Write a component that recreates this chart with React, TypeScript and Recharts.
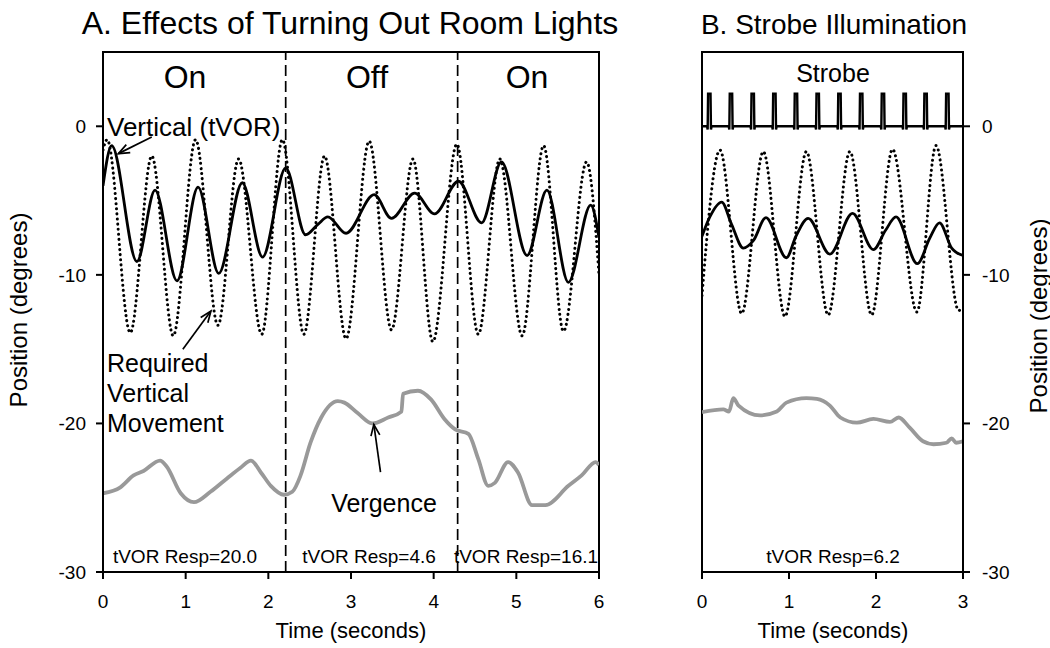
import React from "react"
import { LineChart, Line, XAxis, YAxis, ReferenceLine, ReferenceArea } from "recharts"

const FONT = "'Liberation Sans', Arial, sans-serif"

// ---- Panel A: room lights on / off ----
const reqA_t = [0, 0.05, 0.33, 0.59, 0.85, 1.12, 1.39, 1.64, 1.92, 2.17, 2.43, 2.68, 2.94, 3.22, 3.49, 3.75, 3.99, 4.28, 4.54, 4.8, 5.07, 5.33, 5.57, 5.85, 6.0]
const reqA_v = [-1.6, -0.9, -13.9, -2.0, -14.1, -0.9, -13.4, -2.2, -14.0, -0.9, -14.0, -2.0, -14.3, -1.0, -13.7, -2.2, -14.5, -1.2, -14.0, -2.2, -14.1, -1.3, -13.8, -2.4, -10.0]

const vorA_t = [0, 0.105, 0.41, 0.63, 0.895, 1.15, 1.4, 1.685, 1.93, 2.21, 2.45, 2.6, 2.72, 2.94, 3.28, 3.49, 3.77, 4.01, 4.3, 4.58, 4.82, 5.13, 5.37, 5.63, 5.9, 6.0]
const vorA_v = [-4.0, -1.3, -9.1, -4.3, -10.4, -4.1, -9.9, -3.8, -8.8, -2.8, -7.3, -6.6, -6.1, -7.2, -4.6, -6.2, -4.5, -5.9, -3.7, -6.5, -2.4, -8.7, -4.3, -10.5, -5.3, -7.5]

const vergA_t = [0, 0.21, 0.37, 0.49, 0.69, 0.77, 0.94, 1.1, 1.3, 1.5, 1.66, 1.79, 1.91, 2.03, 2.19, 2.29, 2.39, 2.51, 2.64, 2.84, 2.92, 3.08, 3.26, 3.45, 3.61, 3.63, 3.81, 3.97, 4.13, 4.26, 4.42, 4.54, 4.66, 4.74, 4.9, 5.02, 5.19, 5.35, 5.63, 5.79, 5.96, 6.0]
const vergA_v = [-24.7, -24.3, -23.5, -23.2, -22.5, -22.9, -24.7, -25.3, -24.6, -23.7, -23.0, -22.5, -23.3, -24.2, -24.8, -24.6, -23.5, -21.3, -19.6, -18.5, -18.6, -19.3, -20.0, -19.6, -19.2, -18.0, -17.8, -18.4, -19.7, -20.4, -20.7, -22.4, -24.2, -24.0, -22.6, -23.3, -25.5, -25.5, -24.2, -23.5, -22.6, -22.8]

const lightSwitches = [2.21, 4.29]
const ticksA = [0, 1, 2, 3, 4, 5, 6]

// ---- Panel B: strobe ----
const reqB_t = [0, 0.207, 0.456, 0.705, 0.954, 1.2, 1.45, 1.7, 1.95, 2.19, 2.47, 2.69, 2.95, 3.0]
const reqB_v = [-11.4, -1.6, -12.6, -1.7, -12.8, -1.7, -12.7, -1.7, -12.7, -1.55, -12.5, -1.3, -12.4, -12.2]

const vorB_t = [0, 0.09, 0.226, 0.34, 0.475, 0.59, 0.735, 0.97, 1.08, 1.22, 1.47, 1.73, 1.97, 2.11, 2.23, 2.475, 2.62, 2.73, 2.87, 3.0]
const vorB_v = [-7.4, -6.1, -5.1, -6.6, -8.2, -7.7, -6.15, -8.85, -7.4, -6.2, -8.6, -5.86, -8.3, -7.0, -6.1, -9.25, -7.5, -6.5, -8.2, -8.7]

const vergB_t = [0, 0.245, 0.31, 0.36, 0.42, 0.667, 0.86, 0.97, 1.2, 1.32, 1.47, 1.59, 1.78, 1.97, 2.16, 2.26, 2.39, 2.54, 2.66, 2.81, 2.87, 2.92, 3.0]
const vergB_v = [-19.24, -19.06, -19.2, -18.3, -18.8, -19.46, -19.2, -18.6, -18.3, -18.35, -18.8, -19.6, -19.95, -19.7, -19.9, -19.6, -20.3, -21.2, -21.4, -21.3, -21.0, -21.3, -21.2]

const flashTimes = [0.084, 0.333, 0.583, 0.832, 1.08, 1.33, 1.58, 1.83, 2.08, 2.33, 2.57, 2.82]
const flashHeight = 2.2
const flashDip = -0.22
const ticksB = [0, 1, 2, 3]

const yTicks = [-30, -20, -10, 0]

const rows = (t: number[], v: number[]) => t.map((x, i) => ({ t: x, v: v[i] }))

// strobe trace: flat baseline with a narrow pulse at each flash
const strobeRows = () => {
  const out = [{ t: 0, v: 0 }]
  flashTimes.forEach((f) => {
    out.push({ t: f - 0.026, v: 0 })
    out.push({ t: f - 0.019, v: flashDip })
    out.push({ t: f - 0.014, v: flashHeight })
    out.push({ t: f + 0.014, v: flashHeight })
    out.push({ t: f + 0.019, v: flashDip })
    out.push({ t: f + 0.026, v: 0 })
  })
  out.push({ t: 3, v: 0 })
  return out
}

const Arrow = (p: any) => {
  const { x1, y1, x2, y2 } = p
  const a = Math.atan2(y2 - y1, x2 - x1)
  const L = 12
  const w = 0.38
  const ax = x2 - L * Math.cos(a - w)
  const ay = y2 - L * Math.sin(a - w)
  const bx = x2 - L * Math.cos(a + w)
  const by = y2 - L * Math.sin(a + w)
  return (
    <g>
      <line x1={x1} y1={y1} x2={x2} y2={y2} stroke="#000" strokeWidth={1.7} />
      <polyline points={`${ax},${ay} ${x2},${y2} ${bx},${by}`} fill="none" stroke="#000" strokeWidth={1.7} />
    </g>
  )
}

const tickStyle = { fill: "#000", fontSize: 19, fontFamily: FONT }
const axisLine = { stroke: "#000", strokeWidth: 2 }

const dotted = { stroke: "#000", strokeWidth: 3, strokeDasharray: "0.1 5", strokeLinecap: "round" as const }
const solid = { stroke: "#000", strokeWidth: 2.8 }
const gray = { stroke: "#999999", strokeWidth: 3.8 }

export default function App() {
  return (
    <div style={{ position: "absolute", left: 0, top: 0, width: 1050, height: 648, background: "#fff", fontFamily: FONT }}>
      <div style={{ position: "absolute", left: 0, top: 0 }}>
        <LineChart width={620} height={648} margin={{ top: 52, right: 21, bottom: 36, left: 43 }}>
          <XAxis type="number" dataKey="t" domain={[0, 6]} ticks={ticksA} allowDataOverflow height={40}
            tick={tickStyle} tickSize={7} tickMargin={16} axisLine={axisLine} tickLine={axisLine} />
          <YAxis type="number" domain={[-30, 5]} ticks={yTicks} allowDataOverflow width={60}
            tick={tickStyle} tickSize={7} tickMargin={10} axisLine={axisLine} tickLine={axisLine} />
          <ReferenceArea x1={0} x2={6} y1={-30} y2={5} fill="none" fillOpacity={0} stroke="#000" strokeWidth={2} />
          {lightSwitches.map((s) => (
            <ReferenceLine key={s} x={s} stroke="#000" strokeWidth={1.7} strokeDasharray="11 5" />
          ))}
          <Line data={rows(reqA_t, reqA_v)} dataKey="v" type="monotone" dot={false} isAnimationActive={false} {...dotted} />
          <Line data={rows(vergA_t, vergA_v)} dataKey="v" type="monotone" dot={false} isAnimationActive={false} {...gray} />
          <Line data={rows(vorA_t, vorA_v)} dataKey="v" type="monotone" dot={false} isAnimationActive={false} {...solid} />
          <ReferenceLine segment={[{ x: 0.59, y: -0.72 }, { x: 0.185, y: -1.84 }]} shape={Arrow} />
          <ReferenceLine segment={[{ x: 0.966, y: -15.0 }, { x: 1.305, y: -12.44 }]} shape={Arrow} />
          <ReferenceLine segment={[{ x: 3.357, y: -23.28 }, { x: 3.276, y: -20.07 }]} shape={Arrow} />
        </LineChart>
      </div>

      <div style={{ position: "absolute", left: 640, top: 0 }}>
        <LineChart width={410} height={648} margin={{ top: 52, right: 27, bottom: 36, left: 62 }}>
          <XAxis type="number" dataKey="t" domain={[0, 3]} ticks={ticksB} allowDataOverflow height={40}
            tick={tickStyle} tickSize={7} tickMargin={16} axisLine={axisLine} tickLine={axisLine} />
          <YAxis type="number" orientation="right" domain={[-30, 5]} ticks={yTicks} allowDataOverflow width={60}
            tick={{ ...tickStyle, textAnchor: "start" }} tickSize={7} tickMargin={12} axisLine={axisLine} tickLine={axisLine} />
          <ReferenceArea x1={0} x2={3} y1={-30} y2={5} fill="none" fillOpacity={0} stroke="#000" strokeWidth={2} />
          <Line data={strobeRows()} dataKey="v" type="linear" dot={false} isAnimationActive={false} stroke="#000" strokeWidth={2.4} />
          <Line data={rows(reqB_t, reqB_v)} dataKey="v" type="monotone" dot={false} isAnimationActive={false} {...dotted} />
          <Line data={rows(vergB_t, vergB_v)} dataKey="v" type="monotone" dot={false} isAnimationActive={false} {...gray} />
          <Line data={rows(vorB_t, vorB_v)} dataKey="v" type="monotone" dot={false} isAnimationActive={false} {...solid} />
        </LineChart>
      </div>

      <svg width={1050} height={648} style={{ position: "absolute", left: 0, top: 0, pointerEvents: "none" }}
        fontFamily={FONT} fill="#000">
        <text x={350} y={34} fontSize={32} textAnchor="middle">A. Effects of Turning Out Room Lights</text>
        <text x={834} y={34} fontSize={28} textAnchor="middle">B. Strobe Illumination</text>

        <text x={185} y={88} fontSize={32} textAnchor="middle">On</text>
        <text x={367} y={88} fontSize={32} textAnchor="middle">Off</text>
        <text x={527} y={88} fontSize={32} textAnchor="middle">On</text>
        <text x={833} y={82} fontSize={25} textAnchor="middle">Strobe</text>

        <text x={107} y={136} fontSize={26}>Vertical (tVOR)</text>
        <text x={107} y={372} fontSize={25}>Required</text>
        <text x={107} y={402} fontSize={25}>Vertical</text>
        <text x={107} y={432} fontSize={25}>Movement</text>
        <text x={384} y={512} fontSize={25} textAnchor="middle">Vergence</text>

        <text x={185} y={563} fontSize={19} textAnchor="middle">tVOR Resp=20.0</text>
        <text x={369} y={563} fontSize={19} textAnchor="middle">tVOR Resp=4.6</text>
        <text x={526} y={563} fontSize={19} textAnchor="middle">tVOR Resp=16.1</text>
        <text x={833} y={563} fontSize={19} textAnchor="middle">tVOR Resp=6.2</text>

        <text x={351} y={638} fontSize={22} textAnchor="middle">Time (seconds)</text>
        <text x={833} y={638} fontSize={22} textAnchor="middle">Time (seconds)</text>

        <text x={18} y={310} fontSize={24} textAnchor="middle" dominantBaseline="central" transform="rotate(-90 18 310)">Position (degrees)</text>
        <text x={1038} y={316} fontSize={24} textAnchor="middle" dominantBaseline="central" transform="rotate(-90 1038 316)">Position (degrees)</text>
      </svg>
    </div>
  )
}
